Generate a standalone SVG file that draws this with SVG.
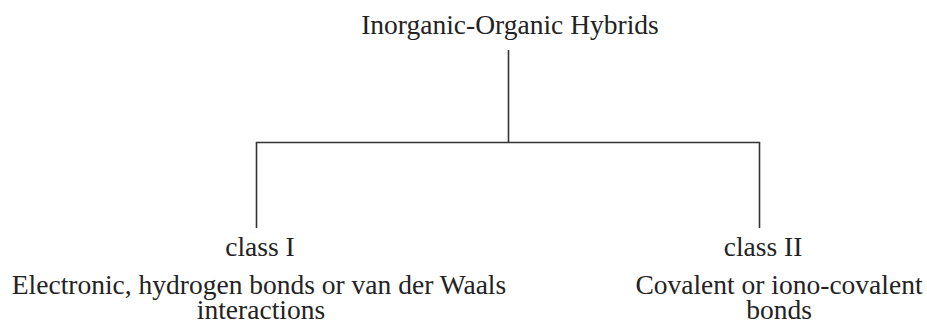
<svg xmlns="http://www.w3.org/2000/svg" width="927" height="324" viewBox="0 0 927 324">
<style>
text{font-family:"Liberation Serif","Times New Roman",serif;font-size:27.5px;fill:#222;text-anchor:middle}
.c{stroke:#333;stroke-width:1.6;fill:none}
</style>
<rect width="927" height="324" fill="#fff"/>
<g id="connectors">
<path class="c" d="M508.5 50V142.5M256.5 228V142.5H759.5V228"/>
</g>
<g id="root"><text x="510" y="34">Inorganic-Organic Hybrids</text></g>
<g id="class1"><text x="260" y="256">class I</text><text x="259" y="294">Electronic, hydrogen bonds or van der Waals</text><text x="261" y="319">interactions</text></g>
<g id="class2"><text x="763" y="256">class II</text><text x="779" y="294">Covalent or iono-covalent</text><text x="779" y="319">bonds</text></g>
</svg>
